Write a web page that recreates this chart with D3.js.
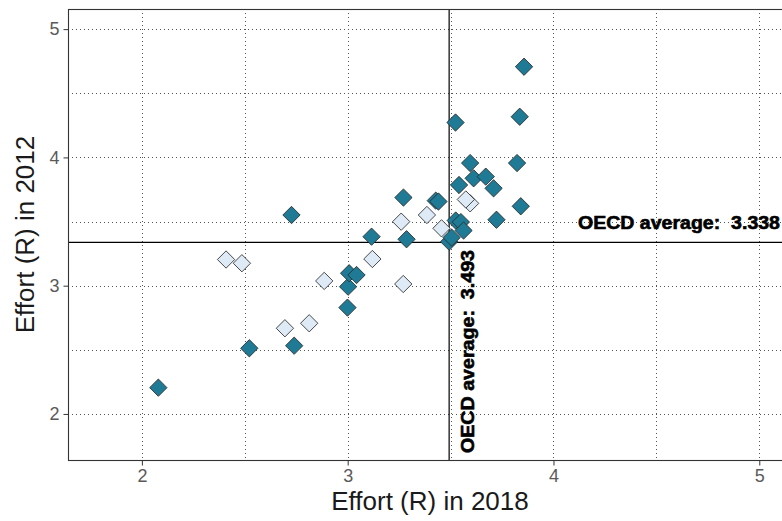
<!DOCTYPE html>
<html>
<head>
<meta charset="utf-8">
<script src="https://cdn.jsdelivr.net/npm/d3@7"></script>
<style>
  html, body { margin: 0; padding: 0; background: #ffffff; }
  svg { display: block; font-family: "Liberation Sans", Arial, sans-serif; }
</style>
</head>
<body>
<svg id="chart" width="782" height="521"></svg>
<script>
// Effort (R): country scores in 2018 (x) against 2012 (y)
const darkX = [2.080, 2.522, 2.740, 2.727, 2.999, 3.002, 3.007, 3.043, 3.116, 3.271,
               3.286, 3.428, 3.441, 3.493, 3.505, 3.524, 3.525, 3.550, 3.563, 3.541,
               3.595, 3.612, 3.671, 3.709, 3.723, 3.823, 3.836, 3.841, 3.857];
const darkY = [2.205, 2.512, 2.532, 3.551, 2.829, 2.992, 3.097, 3.083, 3.382, 3.687,
               3.362, 3.663, 3.656, 3.343, 3.375, 4.272, 3.508, 3.496, 3.430, 3.785,
               3.956, 3.837, 3.850, 3.759, 3.514, 3.956, 4.317, 3.619, 4.707];
const lightX = [2.409, 2.486, 2.695, 2.813, 2.886, 3.120, 3.260, 3.270, 3.385, 3.456,
                3.595, 3.574];
const lightY = [3.204, 3.175, 2.668, 2.707, 3.037, 3.208, 3.499, 3.013, 3.551, 3.447,
                3.642, 3.672];

// OECD averages for each year
const oecdAvg2018 = 3.493;
const oecdAvg2012 = 3.338;

// Axis ticks
const xTicks = [2, 3, 4, 5];
const yTicks = [2, 3, 4, 5];
const xMinor = [2.5, 3.5, 4.5];
const yMinor = [2.5, 3.5, 4.5];

const svg = d3.select("#chart");
const panel = { left: 68, top: 9, right: 792, bottom: 460 };

const x = d3.scaleLinear().domain([1.641, 5.159]).range([panel.left, panel.right]);
const y = d3.scaleLinear().domain([1.641, 5.157]).range([panel.bottom, panel.top]);

svg.append("defs").append("clipPath").attr("id", "panel-clip")
  .append("rect")
  .attr("x", panel.left).attr("y", panel.top)
  .attr("width", panel.right - panel.left).attr("height", panel.bottom - panel.top);

const plot = svg.append("g").attr("clip-path", "url(#panel-clip)");

// Dotted grid (major and minor)
const gridStyle = sel => sel
  .attr("stroke", "#555")
  .attr("stroke-width", 1)
  .attr("stroke-dasharray", "1,3")
  .attr("fill", "none");

plot.append("g").selectAll("line")
  .data(xTicks.concat(xMinor))
  .join("line")
  .attr("x1", d => Math.round(x(d)) + 0.5).attr("x2", d => Math.round(x(d)) + 0.5)
  .attr("y1", panel.top).attr("y2", panel.bottom)
  .call(gridStyle);

plot.append("g").selectAll("line")
  .data(yTicks.concat(yMinor))
  .join("line")
  .attr("y1", d => Math.round(y(d)) + 0.5).attr("y2", d => Math.round(y(d)) + 0.5)
  .attr("x1", panel.left).attr("x2", panel.right)
  .call(gridStyle);

// OECD average reference lines
plot.append("line")
  .attr("x1", panel.left).attr("x2", panel.right)
  .attr("y1", y(oecdAvg2012)).attr("y2", y(oecdAvg2012))
  .attr("stroke", "#000").attr("stroke-width", 1.2);
plot.append("line")
  .attr("x1", x(oecdAvg2018)).attr("x2", x(oecdAvg2018))
  .attr("y1", panel.top).attr("y2", panel.bottom)
  .attr("stroke", "#000").attr("stroke-width", 1.2);

// Diamond markers
const diamond = d3.symbol().type(d3.symbolSquare).size(150);

function drawPoints(xs, ys, fill) {
  plot.append("g").selectAll("path")
    .data(xs.map((v, i) => [v, ys[i]]))
    .join("path")
    .attr("d", diamond)
    .attr("transform", d => `translate(${x(d[0])},${y(d[1])}) rotate(45)`)
    .attr("fill", fill)
    .attr("stroke", "#2b2b2b")
    .attr("stroke-width", 0.8);
}
drawPoints(lightX, lightY, "#deebf7");
drawPoints(darkX, darkY, "#1f7a96");

// Reference labels
plot.append("text")
  .attr("x", 578).attr("y", y(oecdAvg2012) - 13)
  .attr("font-size", 18).attr("font-weight", "bold")
  .attr("fill", "#000").attr("stroke", "#000").attr("stroke-width", 0.6)
  .attr("textLength", 202).attr("lengthAdjust", "spacingAndGlyphs")
  .style("white-space", "pre")
  .text("OECD average:  " + oecdAvg2012.toFixed(3));

plot.append("text")
  .attr("transform", `translate(${x(oecdAvg2018) + 25},453) rotate(-90)`)
  .attr("font-size", 18).attr("font-weight", "bold")
  .attr("fill", "#000").attr("stroke", "#000").attr("stroke-width", 0.6)
  .attr("textLength", 203).attr("lengthAdjust", "spacingAndGlyphs")
  .style("white-space", "pre")
  .text("OECD average:  " + oecdAvg2018.toFixed(3));

// Panel border
svg.append("rect")
  .attr("x", panel.left + 0.5).attr("y", panel.top + 0.5)
  .attr("width", panel.right - panel.left).attr("height", panel.bottom - panel.top)
  .attr("fill", "none").attr("stroke", "#333").attr("stroke-width", 1.1);

// Axes
const xAxis = svg.append("g")
  .attr("transform", `translate(0,${panel.bottom + 0.5})`)
  .call(d3.axisBottom(x).tickValues(xTicks).tickSize(5).tickPadding(4).tickFormat(d3.format("d")));
const yAxis = svg.append("g")
  .attr("transform", `translate(${panel.left + 0.5},0)`)
  .call(d3.axisLeft(y).tickValues(yTicks).tickSize(5).tickPadding(4).tickFormat(d3.format("d")));

[xAxis, yAxis].forEach(a => {
  a.select(".domain").remove();
  a.selectAll(".tick line").attr("stroke", "#333");
  a.selectAll(".tick text")
    .attr("fill", "#5a5a5a")
    .attr("font-size", 18)
    .attr("font-family", "Liberation Sans, Arial, sans-serif");
});

// Axis titles
svg.append("text")
  .attr("x", (panel.left + panel.right) / 2).attr("y", 510)
  .attr("text-anchor", "middle")
  .attr("font-size", 26).attr("fill", "#1a1a1a")
  .text("Effort (R) in 2018");

svg.append("text")
  .attr("transform", `translate(34,${(panel.top + panel.bottom) / 2}) rotate(-90)`)
  .attr("text-anchor", "middle")
  .attr("font-size", 26).attr("fill", "#1a1a1a")
  .text("Effort (R) in 2012");
</script>
</body>
</html>
